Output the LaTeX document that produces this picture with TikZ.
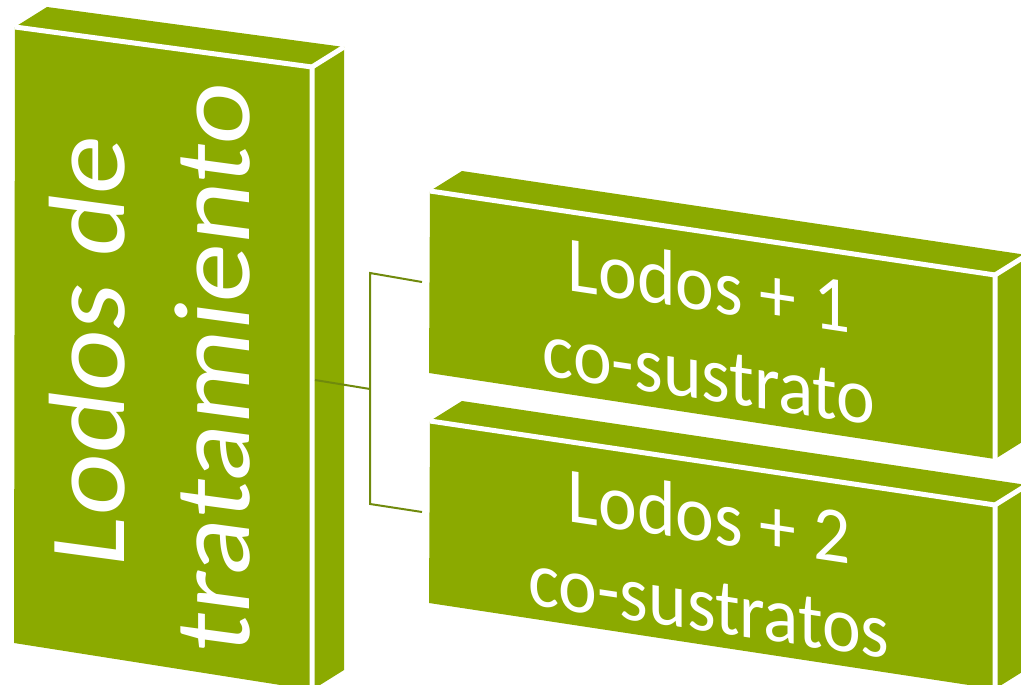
\documentclass[tikz,border=0pt]{standalone}
\usepackage{fontspec}
\setmainfont{Carlito}
\definecolor{boxgreen}{RGB}{139,170,0}
\definecolor{linkgreen}{RGB}{112,138,12}
\tikzset{
  face/.style={fill=boxgreen, draw=none},
  edge/.style={draw=white, line width=5pt},
  link/.style={draw=linkgreen, line width=2pt},
  lbl/.style={text=white, align=center, inner sep=0pt}
}
\begin{document}
\begin{tikzpicture}[x=1pt,y=1pt]
\useasboundingbox (0,0) rectangle (1021,-685);
\clip (0,0) rectangle (1021,-685);
% ---------- left box
\coordinate (LA) at (15,-27);
\coordinate (LC) at (312,-67);
\coordinate (LE) at (312,-690);
\coordinate (LD) at (14,-643);
\coordinate (LG) at (47,-7);
\coordinate (LH) at (344,-47);
\coordinate (LK) at (344,-670);
\fill[face] (LA)--(LC)--(LE)--(LD)--cycle;
\fill[face] (LA)--(LG)--(LH)--(LC)--cycle;
\fill[face] (LC)--(LH)--(LK)--(LE)--cycle;
\draw[edge] (LA)--(LC)--(LE);
\draw[edge] (LC)--(LH);
% ---------- right box 1
\coordinate (PA) at (430,-191);
\coordinate (PC) at (995,-275);
\coordinate (PE) at (995,-459);
\coordinate (PD) at (429,-373);
\coordinate (PG) at (462,-171);
\coordinate (PH) at (1027,-255);
\coordinate (PK) at (1027,-439);
\fill[face] (PA)--(PC)--(PE)--(PD)--cycle;
\fill[face] (PA)--(PG)--(PH)--(PC)--cycle;
\fill[face] (PC)--(PH)--(PK)--(PE)--cycle;
\draw[edge] (PA)--(PC)--(PE);
\draw[edge] (PC)--(PH);
% ---------- right box 2
\coordinate (QA) at (430,-421);
\coordinate (QC) at (995,-505);
\coordinate (QE) at (995,-689);
\coordinate (QD) at (429,-603);
\coordinate (QG) at (462,-401);
\coordinate (QH) at (1027,-485);
\coordinate (QK) at (1027,-669);
\fill[face] (QA)--(QC)--(QE)--(QD)--cycle;
\fill[face] (QA)--(QG)--(QH)--(QC)--cycle;
\fill[face] (QC)--(QH)--(QK)--(QE)--cycle;
\draw[edge] (QA)--(QC)--(QE);
\draw[edge] (QC)--(QH);
% ---------- connectors
\coordinate (c0) at (315,-380);
\coordinate (cj) at (370,-389);
\coordinate (ct) at (370,-273);
\coordinate (cb) at (370,-504);
\coordinate (t1) at (422,-282);
\coordinate (t2) at (422,-512);
\draw[link] (c0) -- (cj);
\draw[link, line join=miter] (t1) -- (ct) -- (cb) -- (t2);
% ---------- labels
\begin{scope}[shift={(150,-358)}]
\node[lbl, cm={0,1,-0.92,0.124,(0,0)}, font=\fontsize{118}{136}\selectfont] (lefttext) at (0,0) {Lodos de\\tratamiento};
\end{scope}
\begin{scope}[shift={(709,-329)}]
\node[lbl, cm={0.93,-0.14,0,1,(0,0)}, font=\fontsize{79}{89}\selectfont] (text1) at (0,0) {Lodos + 1\\co-sustrato};
\end{scope}
\begin{scope}[shift={(709,-560)}]
\node[lbl, cm={0.93,-0.14,0,1,(0,0)}, font=\fontsize{79}{89}\selectfont] (text2) at (0,0) {Lodos + 2\\co-sustratos};
\end{scope}
\end{tikzpicture}
\end{document}
